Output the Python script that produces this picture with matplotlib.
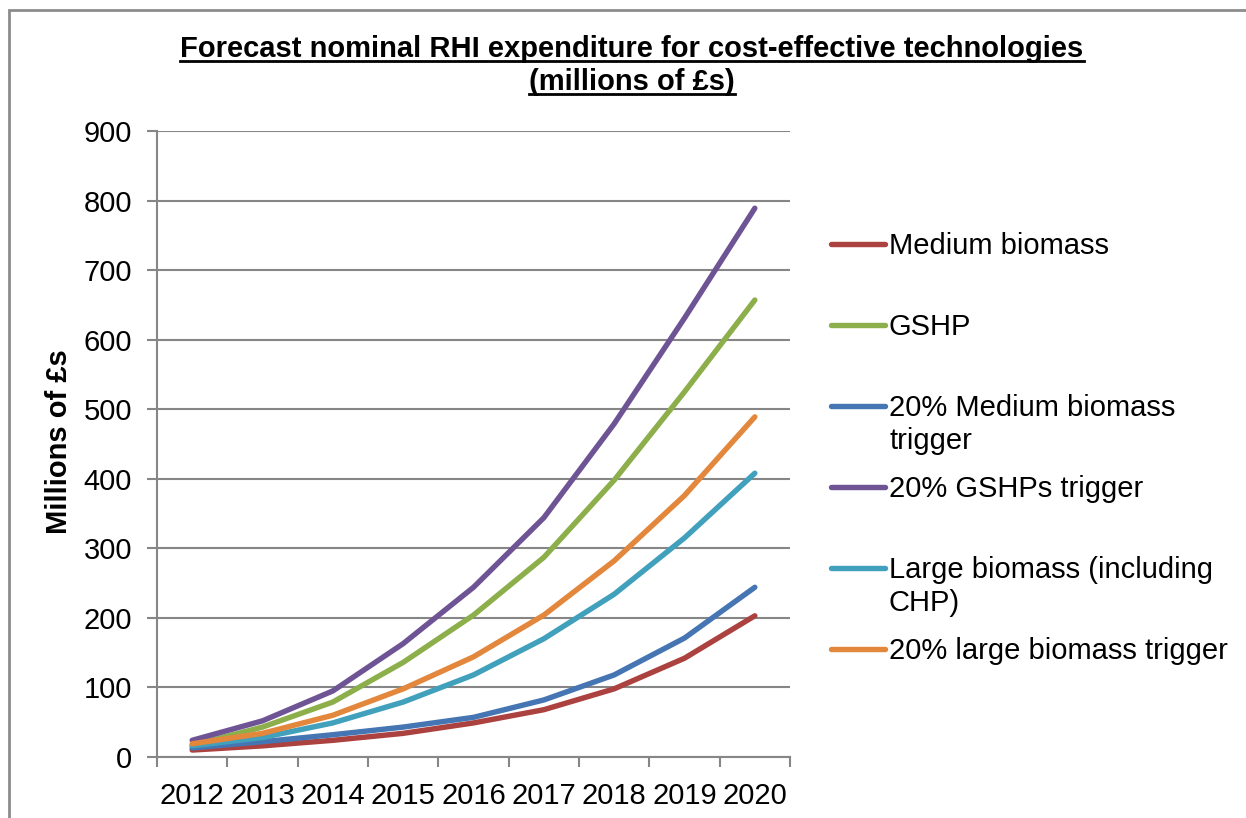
import matplotlib
matplotlib.use("Agg")
import matplotlib.pyplot as plt
from matplotlib.lines import Line2D
from matplotlib.patches import Rectangle

years = ["2012", "2013", "2014", "2015", "2016", "2017", "2018", "2019", "2020"]
medium_biomass = [10, 16, 24, 34, 49, 68, 98, 142, 203]
gshp = [17, 43, 79, 136, 204, 287, 398, 525, 657]
medium_trigger = [13, 22, 32, 43, 57, 82, 118, 171, 244]
gshp_trigger = [24, 52, 95, 163, 244, 344, 479, 631, 789]
large_biomass = [16, 28, 49, 79, 118, 170, 234, 315, 408]
large_trigger = [19, 34, 60, 98, 144, 204, 282, 376, 489]

series_labels = ["Medium biomass", "GSHP", "20% Medium biomass\ntrigger",
                 "20% GSHPs trigger", "Large biomass (including\nCHP)",
                 "20% large biomass trigger"]
series_values = [medium_biomass, gshp, medium_trigger, gshp_trigger,
                 large_biomass, large_trigger]
colors = ["#AC423F", "#8DAF4B", "#4575B3", "#6E5494", "#41A0BC", "#E2873B"]

plt.rcParams['font.family'] = ['Liberation Sans', 'DejaVu Sans']

W, H = 1246, 818
FS = 21
fig = plt.figure(figsize=(W / 100, H / 100), dpi=100)

def fx(px):
    return px / W

def fy(py):
    return 1 - py / H

# outer border
fig.add_artist(Rectangle((fx(8.5), fy(900)), fx(1400), fy(10.5) - fy(900),
                         transform=fig.transFigure, fill=False,
                         edgecolor="#8C8C8C", lw=2))

ax = fig.add_axes([fx(157), fy(757), fx(790) - fx(157), fy(131) - fy(757)])
x = list(range(len(years)))
for vals, c in zip(series_values, colors):
    ax.plot(x, vals, color=c, lw=3.9, solid_capstyle='round', solid_joinstyle='round', zorder=3)

ax.set_xlim(-0.5, len(years) - 0.5)
ax.set_ylim(0, 900)
ax.set_yticks(range(0, 901, 100))
ax.yaxis.grid(True, color="#868686", lw=1.5)
ax.set_axisbelow(True)
ax.set_xticks([i - 0.5 for i in range(len(years) + 1)])
ax.set_xticklabels([])
ax.set_xticks(x, minor=True)
ax.set_xticklabels(years, minor=True)
ax.tick_params(axis='x', which='major', length=7, width=1.5, color="#868686", direction='out')
ax.tick_params(axis='x', which='minor', length=0, pad=18, labelsize=FS)
ax.tick_params(axis='y', length=7, width=1.5, color="#868686", direction='out', pad=11, labelsize=FS)
for s in ['top', 'right']:
    ax.spines[s].set_visible(False)
for s in ['left', 'bottom']:
    ax.spines[s].set_color("#868686")
    ax.spines[s].set_linewidth(1.5)

fig.text(fx(59), fy(442), "Millions of £s", rotation=90, ha='center', va='center',
         fontsize=FS, fontweight='bold')

t1 = fig.text(fx(632), fy(57), "Forecast nominal RHI expenditure for cost-effective technologies",
              ha='center', va='baseline', fontsize=FS, fontweight='bold')
t2 = fig.text(fx(632), fy(90), "(millions of £s)", ha='center', va='baseline',
              fontsize=FS, fontweight='bold')
fig.canvas.draw()
r = fig.canvas.get_renderer()
for t, base in ((t1, 57), (t2, 90)):
    bb = t.get_window_extent(r)
    fig.add_artist(Line2D([bb.x0 / W, bb.x1 / W], [fy(base + 3.5)] * 2,
                          transform=fig.transFigure, color='black', lw=2))

# legend
for i, (lab, c) in enumerate(zip(series_labels, colors)):
    yy = 244 + 81 * i
    fig.add_artist(Line2D([fx(831), fx(885)], [fy(yy)] * 2, transform=fig.transFigure,
                          color=c, lw=3.9, solid_capstyle='round'))
    for j, line in enumerate(lab.split("\n")):
        fig.text(fx(889), fy(yy + 10 + 33 * j), line, ha='left', va='baseline', fontsize=FS)

fig.savefig("out.png", dpi=100)
